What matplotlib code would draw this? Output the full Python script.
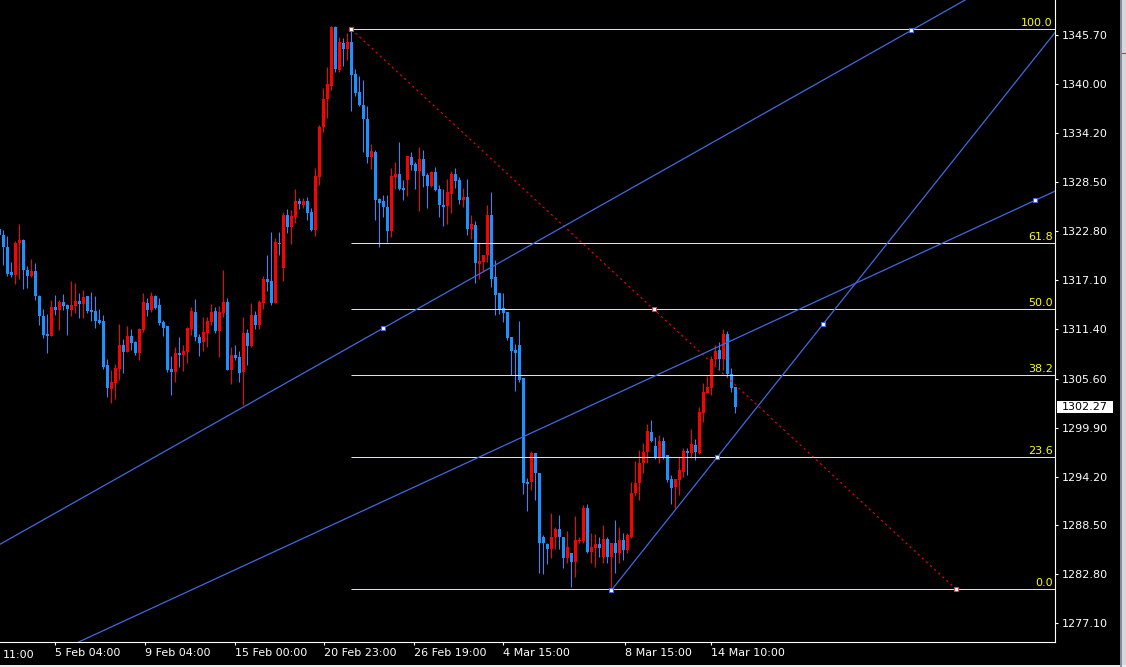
import matplotlib
matplotlib.use('Agg')
import matplotlib.pyplot as plt
import matplotlib.transforms as mtransforms
from matplotlib.patches import Rectangle
from matplotlib.lines import Line2D
import numpy as np

# OHLC, first bar is cut at the left edge (bar index -1)
opens = [1323.1, 1322.4, 1321.0, 1318.0, 1317.7, 1321.4, 1321.8, 1318.3, 1317.6, 1318.2,
         1315.2, 1312.9, 1310.8, 1310.6, 1314.0, 1313.6, 1314.5, 1314.2, 1313.6, 1314.1,
         1314.7, 1314.3, 1315.2, 1313.6, 1313.5, 1312.4, 1312.3, 1307.2, 1304.4, 1305.1,
         1306.7, 1309.5, 1308.7, 1310.6, 1309.9, 1308.6, 1311.3, 1314.4, 1313.6, 1315.2,
         1314.2, 1312.2, 1311.7, 1306.7, 1306.4, 1308.6, 1308.4, 1308.7, 1311.4, 1313.4,
         1310.5, 1309.9, 1310.9, 1312.2, 1313.5, 1311.2, 1313.3, 1314.5, 1306.6, 1308.4,
         1308.1, 1306.4, 1310.9, 1309.4, 1313.0, 1311.9, 1314.4, 1317.2, 1317.0, 1314.4,
         1321.4, 1318.5, 1324.7, 1323.3, 1324.5, 1326.3, 1325.9, 1326.3, 1325.0, 1322.9,
         1329.1, 1334.9, 1338.2, 1339.7, 1346.6, 1341.6, 1344.7, 1344.0, 1344.9, 1341.1,
         1339.0, 1337.5, 1335.9, 1331.4, 1332.0, 1326.6, 1326.3, 1325.6, 1322.8, 1329.1,
         1329.5, 1327.8, 1328.8, 1331.4, 1330.6, 1329.8, 1331.2, 1329.3, 1328.1, 1329.7,
         1327.7, 1325.9, 1325.7, 1327.1, 1329.5, 1328.8, 1326.4, 1326.8, 1323.1, 1323.5,
         1319.0, 1319.2, 1320.0, 1324.7, 1317.5, 1315.6, 1313.8, 1313.4, 1310.5, 1309.0,
         1309.5, 1305.7, 1293.6, 1293.6, 1296.9, 1294.6, 1287.2, 1286.3, 1285.8, 1287.2,
         1288.1, 1287.2, 1284.7, 1285.3, 1284.2, 1286.7, 1286.7, 1290.5, 1285.4, 1285.9,
         1286.3, 1284.8, 1286.9, 1284.8, 1286.5, 1285.3, 1286.8, 1285.6, 1287.2, 1292.3,
         1293.5, 1295.8, 1297.1, 1299.4, 1297.8, 1296.4, 1298.3, 1296.7, 1293.9, 1293.0,
         1293.8, 1294.7, 1297.2, 1296.9, 1297.9, 1296.9, 1301.6, 1303.9, 1304.5, 1307.9,
         1309.0, 1307.9, 1310.8, 1306.2, 1304.6]
highs = [1323.1, 1322.9, 1322.2, 1319.2, 1321.6, 1323.6, 1321.9, 1318.7, 1319.6, 1319.1,
         1315.4, 1313.7, 1313.1, 1314.8, 1315.4, 1314.8, 1315.5, 1314.3, 1317.0, 1316.8,
         1315.6, 1315.9, 1315.2, 1315.7, 1315.2, 1313.7, 1313.0, 1307.9, 1306.6, 1307.3,
         1312.0, 1310.2, 1311.7, 1311.4, 1310.0, 1311.5, 1315.6, 1315.0, 1315.7, 1315.4,
         1315.0, 1312.4, 1311.7, 1308.3, 1309.3, 1310.5, 1309.5, 1311.6, 1314.0, 1314.9,
         1310.8, 1312.8, 1312.8, 1314.3, 1314.0, 1314.1, 1318.3, 1315.0, 1309.3, 1309.5,
         1308.8, 1312.8, 1311.4, 1314.4, 1313.5, 1314.8, 1317.6, 1320.0, 1322.7, 1322.0,
         1322.7, 1325.0, 1325.4, 1325.3, 1327.7, 1326.7, 1326.7, 1326.8, 1325.5, 1330.2,
         1335.2, 1339.5, 1341.9, 1346.7, 1346.7, 1345.4, 1345.3, 1345.9, 1346.2, 1341.7,
         1340.9, 1340.4, 1337.4, 1333.0, 1332.3, 1326.7, 1327.0, 1327.0, 1330.2, 1330.9,
         1333.2, 1328.8, 1331.6, 1332.0, 1330.9, 1332.6, 1332.3, 1329.6, 1329.8, 1330.3,
         1328.2, 1327.7, 1328.9, 1329.8, 1330.2, 1329.1, 1327.8, 1328.9, 1324.7, 1324.0,
         1321.4, 1320.0, 1325.9, 1327.4, 1319.4, 1315.6, 1315.6, 1313.4, 1310.5, 1309.7,
         1312.3, 1305.7, 1294.0, 1297.2, 1296.9, 1294.6, 1287.4, 1286.5, 1290.0, 1288.3,
         1289.7, 1287.2, 1287.9, 1285.3, 1289.6, 1287.2, 1290.9, 1291.0, 1287.6, 1287.5,
         1287.2, 1288.6, 1287.2, 1286.5, 1289.1, 1288.3, 1287.6, 1287.6, 1293.6, 1296.0,
         1297.3, 1298.1, 1300.3, 1300.8, 1298.8, 1299.0, 1298.8, 1296.7, 1294.4, 1293.9,
         1296.5, 1297.5, 1297.5, 1299.7, 1298.6, 1302.3, 1305.1, 1305.9, 1308.3, 1309.5,
         1309.9, 1311.4, 1311.2, 1306.9, 1304.6]
lows = [1322.2, 1318.8, 1317.6, 1317.4, 1316.6, 1317.2, 1316.1, 1316.2, 1317.5, 1314.8,
        1311.9, 1310.4, 1308.6, 1310.6, 1313.0, 1311.3, 1313.6, 1310.7, 1312.9, 1313.3,
        1312.7, 1312.7, 1313.3, 1312.3, 1311.5, 1312.0, 1306.7, 1303.5, 1302.8, 1303.2,
        1305.5, 1306.3, 1308.7, 1309.0, 1308.4, 1307.8, 1311.1, 1312.9, 1313.4, 1313.7,
        1311.9, 1310.6, 1306.4, 1303.7, 1305.2, 1307.0, 1306.5, 1307.4, 1310.7, 1310.0,
        1308.3, 1308.8, 1309.3, 1311.9, 1310.9, 1308.1, 1312.8, 1306.6, 1305.0, 1307.8,
        1305.2, 1302.5, 1307.2, 1309.3, 1311.4, 1311.4, 1313.7, 1315.8, 1314.2, 1314.4,
        1320.0, 1317.0, 1322.6, 1321.3, 1323.8, 1325.4, 1325.5, 1324.1, 1322.8, 1322.2,
        1328.2, 1334.4, 1336.0, 1339.3, 1341.4, 1341.4, 1342.1, 1342.8, 1336.8, 1338.6,
        1337.4, 1332.0, 1330.7, 1330.0, 1324.1, 1321.0, 1324.5, 1321.5, 1322.1, 1327.7,
        1327.6, 1326.4, 1326.9, 1329.9, 1327.7, 1325.2, 1328.0, 1325.5, 1328.0, 1327.5,
        1324.5, 1323.4, 1323.6, 1324.9, 1327.8, 1326.0, 1325.6, 1322.4, 1321.9, 1316.8,
        1317.2, 1318.0, 1319.2, 1316.3, 1313.0, 1313.1, 1312.2, 1310.1, 1306.0, 1304.2,
        1305.2, 1292.2, 1290.2, 1292.6, 1291.5, 1283.0, 1282.8, 1284.0, 1284.7, 1285.8,
        1285.8, 1283.5, 1284.1, 1281.3, 1282.5, 1286.5, 1286.5, 1285.3, 1284.1, 1283.7,
        1284.8, 1284.1, 1284.1, 1281.0, 1283.0, 1284.1, 1284.5, 1285.3, 1287.0, 1291.9,
        1291.5, 1294.6, 1295.8, 1298.2, 1296.2, 1295.8, 1296.2, 1293.6, 1291.0, 1290.5,
        1292.1, 1294.2, 1294.4, 1296.4, 1296.1, 1296.8, 1300.6, 1303.9, 1303.7, 1307.2,
        1306.6, 1306.6, 1305.8, 1304.1, 1301.6]
closes = [1322.4, 1320.9, 1317.8, 1317.7, 1321.4, 1321.8, 1318.3, 1317.6, 1318.1, 1315.2,
          1312.9, 1310.7, 1310.6, 1314.0, 1313.6, 1314.5, 1314.1, 1313.7, 1314.2, 1314.7,
          1314.3, 1315.1, 1313.5, 1313.4, 1312.3, 1312.1, 1307.0, 1304.5, 1305.2, 1306.9,
          1309.5, 1308.7, 1310.6, 1309.8, 1308.6, 1311.4, 1314.5, 1313.6, 1315.2, 1313.8,
          1312.1, 1311.5, 1306.6, 1306.4, 1308.6, 1308.4, 1308.8, 1311.5, 1313.5, 1310.5,
          1309.8, 1311.1, 1312.3, 1313.4, 1311.2, 1313.4, 1314.5, 1306.6, 1308.4, 1308.0,
          1306.3, 1310.9, 1309.4, 1313.0, 1311.9, 1314.5, 1317.2, 1316.9, 1314.4, 1321.5,
          1321.3, 1324.7, 1323.3, 1324.6, 1326.3, 1326.0, 1326.3, 1324.9, 1322.9, 1329.2,
          1334.9, 1338.2, 1340.0, 1346.6, 1341.7, 1344.8, 1344.0, 1344.9, 1341.0, 1338.9,
          1337.5, 1335.9, 1331.4, 1332.1, 1326.4, 1326.1, 1325.6, 1322.8, 1329.2, 1329.5,
          1327.7, 1327.6, 1331.6, 1330.5, 1329.8, 1331.2, 1329.2, 1328.1, 1329.7, 1327.6,
          1325.9, 1325.6, 1327.4, 1329.5, 1328.6, 1326.4, 1326.8, 1323.1, 1323.6, 1319.1,
          1319.3, 1320.0, 1324.7, 1317.2, 1315.4, 1313.6, 1313.3, 1310.4, 1308.8, 1308.6,
          1305.5, 1293.5, 1293.3, 1296.9, 1294.6, 1286.5, 1286.5, 1285.8, 1287.2, 1288.1,
          1287.2, 1284.7, 1286.0, 1284.2, 1286.8, 1286.8, 1290.5, 1285.4, 1286.0, 1286.3,
          1285.9, 1286.9, 1284.8, 1286.5, 1285.3, 1286.8, 1285.6, 1287.4, 1292.3, 1293.5,
          1295.8, 1297.1, 1299.5, 1298.3, 1296.4, 1298.3, 1296.4, 1293.8, 1292.9, 1293.9,
          1295.0, 1297.2, 1296.9, 1298.0, 1297.1, 1301.7, 1304.1, 1304.6, 1307.9, 1308.8,
          1307.9, 1310.8, 1306.2, 1304.5, 1302.27]

price_ticks = [1345.70, 1340.00, 1334.20, 1328.50, 1322.80, 1317.10, 1311.40,
               1305.60, 1299.90, 1294.20, 1288.50, 1282.80, 1277.10]
date_labels = ['5 Feb 04:00', '9 Feb 04:00', '15 Feb 00:00', '20 Feb 23:00',
               '26 Feb 19:00', '4 Mar 15:00', '8 Mar 15:00', '14 Mar 10:00']
date_pos = [13.0, 35.4, 57.85, 80.25, 102.6, 124.9, 155.4, 176.9]

# fibonacci retracement: (bar, price) of the two anchors
fib_start = (87.0, 1346.33)
fib_end = (238.2, 1281.06)
fib_levels = [0.0, 23.6, 38.2, 50.0, 61.8, 100.0]

# trend lines as (bar, price) anchors
line_a = [(95.0, 1311.5), (227.0, 1346.2)]
line_b = [(124.2, 1297.6), (258.0, 1326.4)]
line_c = [(152.0, 1280.94), (205.0, 1312.0)]

last_price = 1302.27

BULL = '#ff0000'
BEAR = '#1e90ff'
TREND = '#4169e1'
FIB = '#ffff00'

W, H = 1126, 667
fig = plt.figure(figsize=(W / 100, H / 100), dpi=100, facecolor='black')
ax = fig.add_axes([0, 25 / H, 1055 / W, 642 / H], facecolor='black')

x_lo, x_hi = -0.825, 262.925
y_lo, y_hi = 1274.92, 1349.74

o = np.array(opens)
hi = np.array(highs)
lo = np.array(lows)
c = np.array(closes)
bars = np.arange(len(o)) - 1
cols = [BULL if cc >= oo else BEAR for oo, cc in zip(o, c)]

# candles
ax.vlines(bars, lo, hi, colors=cols, linewidth=0.75, zorder=2)
body_h = np.maximum(np.abs(c - o), 0.12)
ax.bar(bars, body_h, bottom=np.minimum(o, c), width=0.75, color=cols,
       linewidth=0, zorder=3)

# fibonacci levels
fib_rng = fib_start[1] - fib_end[1]
lab_tr = mtransforms.blended_transform_factory(ax.transAxes, ax.transData)
for lv in fib_levels:
    p = fib_end[1] + lv / 100.0 * fib_rng
    ax.hlines(p, fib_start[0], x_hi, colors=FIB, linewidth=0.72, snap=True, zorder=4)
    ax.text(0.998, p + 0.15, '%.1f' % lv, transform=lab_tr, ha='right', va='bottom',
            color=FIB, fontsize=8, zorder=6)

ax.plot([fib_start[0], fib_end[0]], [fib_start[1], fib_end[1]], color='#ff0000',
        linewidth=0.8, linestyle=(0, (2, 3)), zorder=4)
fib_mid = ((fib_start[0] + fib_end[0]) / 2, (fib_start[1] + fib_end[1]) / 2)
for pt in [fib_start, fib_mid, fib_end]:
    ax.plot(pt[0], pt[1], marker='s', ms=3.2, mfc='white', mec='#ff3030', mew=0.7,
            zorder=7)

# trend lines
for ln in [line_a, line_b]:
    ax.axline(ln[0], ln[1], color=TREND, linewidth=0.9, zorder=5)
(x0, y0), (x1, y1) = line_c
slope = (y1 - y0) / (x1 - x0)
ax.plot([x0, x_hi], [y0, y0 + slope * (x_hi - x0)], color=TREND, linewidth=0.9, zorder=5)

markers = [line_a[0], line_a[1], line_b[1], line_c[0],
           ((x0 + x1) / 2, (y0 + y1) / 2), line_c[1]]
for pt in markers:
    ax.plot(pt[0], pt[1], marker='s', ms=3.2, mfc='white', mec=TREND, mew=0.8, zorder=7)

ax.set_xlim(x_lo, x_hi)
ax.set_ylim(y_lo, y_hi)

# axes styling
for s in ['top', 'left']:
    ax.spines[s].set_visible(False)
for s in ['right', 'bottom']:
    ax.spines[s].set_color('white')
    ax.spines[s].set_linewidth(0.8)

ax.yaxis.tick_right()
ax.set_yticks(price_ticks)
ax.set_yticklabels(['%.2f' % p for p in price_ticks])
ax.tick_params(axis='y', colors='white', length=2.5, width=0.8, labelsize=8, pad=2.5)

ax.set_xticks(date_pos)
ax.set_xticklabels(date_labels)
for t in ax.get_xticklabels():
    t.set_horizontalalignment('left')
ax.tick_params(axis='x', colors='white', length=2.5, width=0.8, labelsize=8, pad=2)

# partly hidden first date label
ax.text(3 / 1055, -0.0125, '11:00', transform=ax.transAxes, ha='left', va='top',
        color='white', fontsize=8)

# last price box
bx = Rectangle((1.0 + 1.7 / 1055, last_price - 0.68), 56 / 1055, 1.36,
               transform=lab_tr, facecolor='white', edgecolor='none', clip_on=False,
               zorder=8)
ax.add_patch(bx)
ax.text(1.0 + 6.5 / 1055, last_price, '%.2f' % last_price, transform=lab_tr,
        ha='left', va='center', color='black', fontsize=8, zorder=9, clip_on=False)

# window frame at the right and bottom edges
fig.add_artist(Rectangle((1119.5 / W, 0), 6.5 / W, 1, transform=fig.transFigure,
                         facecolor='#d8d8d8', edgecolor='none'))
fig.add_artist(Line2D([1120.5 / W, 1120.5 / W], [0, 1], transform=fig.transFigure,
                      color='#6f7f99', linewidth=1.2))
fig.add_artist(Rectangle((0, 0), 1, 2 / H, transform=fig.transFigure,
                         facecolor='#ececec', edgecolor='none'))
fig.add_artist(Line2D([1122 / W, 1126 / W], [1 - 52.5 / H, 1 - 52.5 / H],
                      transform=fig.transFigure, color='#e03030', linewidth=0.8))

fig.savefig('out.png', dpi=100, facecolor='black')
